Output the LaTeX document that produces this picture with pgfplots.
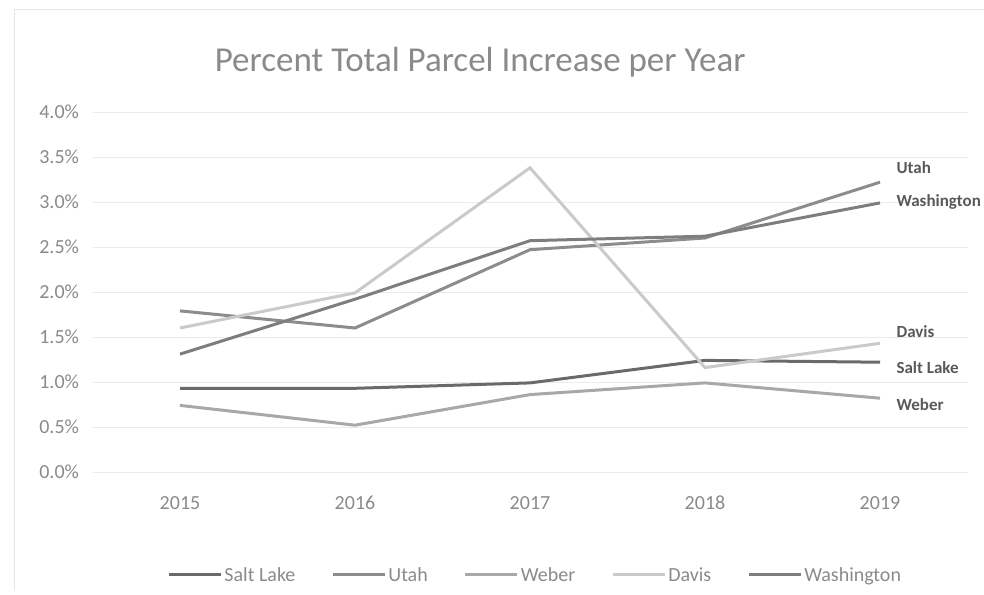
\documentclass[border=0pt]{standalone}
\usepackage{pgfplots}
\pgfplotsset{compat=1.18}
\usepackage{fontspec}
\setmainfont{Carlito}
\definecolor{cSL}{HTML}{6A6A6A}
\definecolor{cUT}{HTML}{8C8C8C}
\definecolor{cWE}{HTML}{A8A8A8}
\definecolor{cDA}{HTML}{CACACA}
\definecolor{cWA}{HTML}{7E7E7E}
\definecolor{txt}{HTML}{8A8A8A}
\begin{document}
\begin{tikzpicture}
\useasboundingbox (0pt,0pt) rectangle (984pt,594pt);
\draw[draw=black!10, line width=1pt] (14pt,3pt) -- (14pt,584pt) -- (990pt,584pt);
\begin{axis}[
  at={(92.5pt,122pt)}, anchor=south west,
  scale only axis, width=875pt, height=360pt,
  xmin=2014.5, xmax=2019.5, ymin=0, ymax=4,
  xtick={2015,2016,2017,2018,2019}, xticklabels={2015,2016,2017,2018,2019},
  ytick={0,0.5,1,1.5,2,2.5,3,3.5,4},
  yticklabel={\pgfmathprintnumber[fixed,fixed zerofill,precision=1]{\tick}\%},
  /pgf/number format/assume math mode=true,
  tick label style={font=\fontsize{20}{22}\selectfont, text=txt},
  xticklabel style={anchor=north, text height=14pt, text depth=0pt, yshift=-20pt},
  yticklabel style={xshift=-10pt},
  major tick length=0pt,
  axis line style={draw=none},
  ymajorgrids, grid style={draw=black!8, line width=0.8pt},
  clip=false,
  title={Percent Total Parcel Increase per Year},
  title style={font=\fontsize{35}{38}\selectfont, text=txt, at={(axis description cs:0.443,1.122)}, anchor=center},
  legend columns=5,
  legend style={at={(axis description cs:0.506,-0.286)}, anchor=center, draw=none, fill=none,
    font=\fontsize{20}{22}\selectfont, text=txt, /tikz/every even column/.append style={column sep=34pt}},
  legend image code/.code={\draw[#1] (0pt,0pt) -- (52pt,0pt);},
  every axis plot/.append style={line width=3pt},
]
\addplot[cSL] coordinates {(2015,0.93) (2016,0.93) (2017,0.99) (2018,1.24) (2019,1.22)};
\addlegendentry{Salt Lake}
\addplot[cUT] coordinates {(2015,1.79) (2016,1.60) (2017,2.47) (2018,2.60) (2019,3.22)};
\addlegendentry{Utah}
\addplot[cWE] coordinates {(2015,0.74) (2016,0.52) (2017,0.86) (2018,0.99) (2019,0.82)};
\addlegendentry{Weber}
\addplot[cDA] coordinates {(2015,1.60) (2016,1.99) (2017,3.38) (2018,1.16) (2019,1.43)};
\addlegendentry{Davis}
\addplot[cWA] coordinates {(2015,1.31) (2016,1.92) (2017,2.57) (2018,2.62) (2019,2.99)};
\addlegendentry{Washington}
\node[anchor=west, font=\fontsize{17}{20}\selectfont\bfseries, text=black!65, xshift=13pt] at (axis cs:2019,3.38) {Utah};
\node[anchor=west, font=\fontsize{17}{20}\selectfont\bfseries, text=black!65, xshift=13pt] at (axis cs:2019,3.00) {Washington};
\node[anchor=west, font=\fontsize{17}{20}\selectfont\bfseries, text=black!65, xshift=13pt] at (axis cs:2019,1.56) {Davis};
\node[anchor=west, font=\fontsize{17}{20}\selectfont\bfseries, text=black!65, xshift=13pt] at (axis cs:2019,1.16) {Salt Lake};
\node[anchor=west, font=\fontsize{17}{20}\selectfont\bfseries, text=black!65, xshift=13pt] at (axis cs:2019,0.75) {Weber};
\end{axis}
\end{tikzpicture}
\end{document}
